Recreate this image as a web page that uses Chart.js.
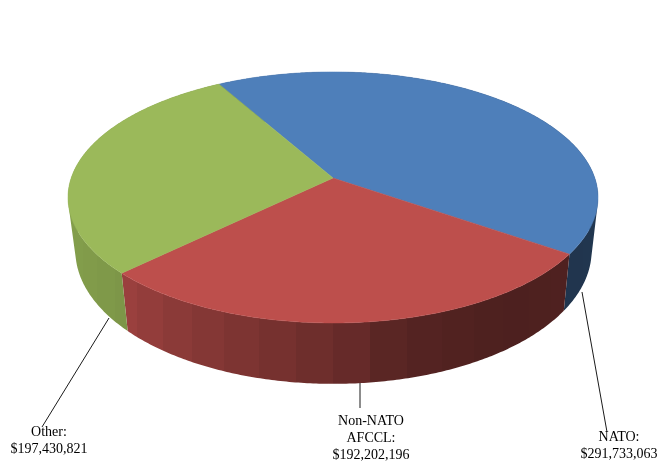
<!DOCTYPE html>
<html>
<head>
<meta charset="utf-8">
<style>html,body{margin:0;padding:0;background:#fff}canvas{display:block}</style>
<script src="https://cdn.jsdelivr.net/npm/chart.js@4"></script>
</head>
<body>
<canvas id="c" width="666" height="464" style="width:666px;height:464px"></canvas>
<script>
const categories = ['NATO', 'Non-NATO AFCCL', 'Other'];
const values = [291733063, 192202196, 197430821];
const colors = ['#4f81bd', '#c0504d', '#9bbb59'];
const displayColors = ['#4e7fba', '#bd4f4c', '#9bb95a'];

// appearance of the tilted pie
const startRotation = -29.6;
const top3d = {cx: 333, cy: 178, a: 261.8, b: 122.5, k: 0.155};
const bottom3d = {cx: 333.5, cy: 230, a: 255, b: 130, k: 0.155};
const bandStep = Math.PI / 26;
const lightX = [-1, -0.72, -0.51, -0.27, 0.02, 0.22, 0.56, 1];
const lightF = [0.85, 0.81, 0.72, 0.64, 0.55, 0.45, 0.40, 0.42];

// leader lines and label placement
const leaders = [[582, 292, 607, 432], [360, 383, 360, 408], [109, 318, 42, 427]];
const labelCenters = [[619, 437], [371, 421], [49, 432]];
const lineHeight = 17;

function project(p, t) {
  const d = 1 - p.k * Math.sin(t);
  return [p.cx + p.a * Math.cos(t) / d, p.cy + p.b * Math.sin(t) / d];
}
function light(c) {
  for (let i = 1; i < lightX.length; i++) {
    if (c <= lightX[i]) {
      const u = (c - lightX[i - 1]) / (lightX[i] - lightX[i - 1]);
      return lightF[i - 1] + u * (lightF[i] - lightF[i - 1]);
    }
  }
  return lightF[lightF.length - 1];
}
function shade(hex, f) {
  const n = parseInt(hex.slice(1), 16);
  return 'rgb(' + [(n >> 16) & 255, (n >> 8) & 255, n & 255].map(v => Math.round(v * f)).join(',') + ')';
}
function money(v) { return '$' + v.toLocaleString('en-US'); }

// left-to-right banded wall shading: one continuous fill, so no seams between bands
function wallGradient(ctx, hex) {
  const x0 = top3d.cx - top3d.a * 1.02, x1 = top3d.cx + top3d.a * 1.02;
  const g = ctx.createLinearGradient(x0, 0, x1, 0);
  let prev = 0;
  for (let t = Math.PI; t > 0; t -= bandStep) {
    const next = Math.max(t - bandStep, 0);
    const xEnd = next === 0 ? 1 : (project(top3d, next)[0] - x0) / (x1 - x0);
    const col = shade(hex, light(Math.cos((t + next) / 2)));
    g.addColorStop(Math.min(1, Math.max(0, prev)), col);
    g.addColorStop(Math.min(1, Math.max(0, xEnd)), col);
    prev = xEnd;
  }
  return g;
}

const pie3d = {
  id: 'pie3d',
  beforeDatasetDraw(chart, args) {
    const ctx = chart.ctx;
    const arcs = args.meta.data;
    arcs.forEach((arc, i) => {
      const n = Math.ceil((arc.endAngle - arc.startAngle) / 0.01);
      const at = j => arc.startAngle + (arc.endAngle - arc.startAngle) * j / n;
      ctx.beginPath();
      for (let j = 0; j < n; j++) {
        // each small quad gets the same winding, so the union fills without holes
        let q = [project(top3d, at(j)), project(top3d, at(j + 1)), project(bottom3d, at(j + 1)), project(bottom3d, at(j))];
        let area = 0;
        q.forEach((p, m) => { const r = q[(m + 1) % 4]; area += p[0] * r[1] - r[0] * p[1]; });
        if (area < 0) q = q.reverse();
        ctx.moveTo(q[0][0], q[0][1]);
        for (let m = 1; m < 4; m++) ctx.lineTo(q[m][0], q[m][1]);
        ctx.closePath();
      }
      ctx.fillStyle = wallGradient(ctx, colors[i]);
      ctx.fill();
    });
    arcs.forEach((arc, i) => {
      ctx.beginPath();
      ctx.moveTo(top3d.cx, top3d.cy);
      const n = Math.ceil((arc.endAngle - arc.startAngle) / 0.01);
      for (let j = 0; j <= n; j++) {
        const pt = project(top3d, arc.startAngle + (arc.endAngle - arc.startAngle) * j / n);
        ctx.lineTo(pt[0], pt[1]);
      }
      ctx.closePath();
      ctx.fillStyle = displayColors[i]; ctx.strokeStyle = displayColors[i]; ctx.lineWidth = 0.5;
      ctx.fill(); ctx.stroke();
    });
    return false;
  },
  afterDraw(chart) {
    const ctx = chart.ctx;
    ctx.save();
    ctx.strokeStyle = '#1a1a1a';
    ctx.lineWidth = 1;
    leaders.forEach(l => {
      ctx.beginPath();
      ctx.moveTo(l[0], l[1]);
      ctx.lineTo(l[2], l[3]);
      ctx.stroke();
    });
    ctx.fillStyle = '#000';
    ctx.font = '14px "Liberation Serif"';
    ctx.textAlign = 'center';
    ctx.textBaseline = 'middle';
    categories.forEach((cat, i) => {
      const parts = cat.split(' ');
      parts[parts.length - 1] += ':';
      parts.push(money(values[i]));
      parts.forEach((line, j) => ctx.fillText(line, labelCenters[i][0], labelCenters[i][1] + j * lineHeight));
    });
    ctx.restore();
  }
};

new Chart(document.getElementById('c'), {
  type: 'pie',
  data: {labels: categories, datasets: [{data: values, backgroundColor: colors, borderWidth: 0}]},
  options: {
    responsive: false,
    devicePixelRatio: 1,
    animation: false,
    rotation: startRotation,
    plugins: {legend: {display: false}, title: {display: false}, tooltip: {enabled: false}}
  },
  plugins: [pie3d]
});
</script>
</body>
</html>
